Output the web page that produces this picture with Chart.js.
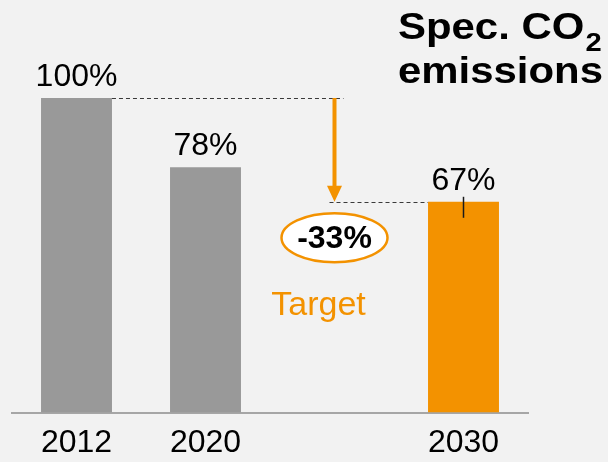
<!DOCTYPE html>
<html>
<head>
<meta charset="utf-8">
<script src="https://cdn.jsdelivr.net/npm/chart.js@4.4.1/dist/chart.umd.min.js"></script>
<style>
  html, body { margin: 0; padding: 0; background: #f2f2f2; }
  #chart { display: block; }
</style>
</head>
<body>
<canvas id="chart" width="608" height="462"></canvas>
<script>
// values, index of 2012 = 100%
const categories = ["2012", "2020", "", "2030"];
const shareValues = [100, 78, null, 67];
const valueLabels = ["100%", "78%", "", "67%"];
const barColors = ["#999999", "#999999", "#999999", "#f39200"];
const reductionLabel = "-33%";
const targetLabel = "Target";
const titleLines = ["Spec. CO", "emissions"];

const ORANGE = "#f39200";
const FONT = "'Liberation Sans', Arial, sans-serif";

// arrows, dashed guides, value labels and title
const annotations = {
  id: "annotations",
  afterDatasetsDraw(chart) {
    const { ctx, scales } = chart;
    const x = scales.x;
    const y = scales.y;
    const bars = chart.getDatasetMeta(0).data;

    ctx.save();
    // value labels above bars
    ctx.fillStyle = "#000";
    ctx.font = `32px ${FONT}`;
    ctx.textAlign = "center";
    ctx.textBaseline = "alphabetic";
    bars.forEach((b, i) => {
      if (shareValues[i] == null) return;
      ctx.fillText(valueLabels[i], b.x, b.y - 12);
    });

    const ax = x.getPixelForValue(2);
    const yTop = y.getPixelForValue(shareValues[0]);
    const yEnd = y.getPixelForValue(shareValues[3]);

    // dashed guides
    ctx.strokeStyle = "#3a3a3a";
    ctx.lineWidth = 1;
    ctx.setLineDash([4, 3]);
    ctx.beginPath();
    ctx.moveTo(bars[0].x + bars[0].width / 2, Math.round(yTop) + 0.5);
    ctx.lineTo(ax + 9, Math.round(yTop) + 0.5);
    ctx.moveTo(ax - 5, Math.round(yEnd) + 0.5);
    ctx.lineTo(bars[3].x - bars[3].width / 2, Math.round(yEnd) + 0.5);
    ctx.stroke();
    ctx.setLineDash([]);

    // small tick on the 2030 bar
    ctx.strokeStyle = "#1a1a1a";
    ctx.lineWidth = 1.5;
    ctx.beginPath();
    ctx.moveTo(bars[3].x, bars[3].y - 5);
    ctx.lineTo(bars[3].x, bars[3].y + 16);
    ctx.stroke();

    // orange arrow
    ctx.strokeStyle = ORANGE;
    ctx.fillStyle = ORANGE;
    ctx.lineWidth = 4;
    ctx.beginPath();
    ctx.moveTo(ax, yTop);
    ctx.lineTo(ax, yEnd - 15);
    ctx.stroke();
    ctx.beginPath();
    ctx.moveTo(ax - 7.5, yEnd - 16);
    ctx.lineTo(ax + 7.5, yEnd - 16);
    ctx.lineTo(ax, yEnd);
    ctx.closePath();
    ctx.fill();

    // ellipse with reduction
    const ey = yEnd + 36;
    ctx.beginPath();
    ctx.ellipse(ax, ey, 53, 24.5, 0, 0, Math.PI * 2);
    ctx.fillStyle = "#fff";
    ctx.fill();
    ctx.lineWidth = 2.5;
    ctx.strokeStyle = ORANGE;
    ctx.stroke();
    ctx.fillStyle = "#000";
    ctx.font = `bold 32px ${FONT}`;
    ctx.fillText(reductionLabel, ax, ey + 10);

    // Target
    ctx.fillStyle = ORANGE;
    ctx.font = `34px ${FONT}`;
    ctx.fillText(targetLabel, ax - 16, yEnd + 113);

    // title, slightly widened like the original
    ctx.fillStyle = "#000";
    ctx.textAlign = "left";
    ctx.font = `bold 36px ${FONT}`;
    const sx = 205 / ctx.measureText(titleLines[1]).width;
    ctx.save();
    ctx.translate(398, 39);
    ctx.scale(sx, 1);
    ctx.fillText(titleLines[0], 0, 0);
    const w1 = ctx.measureText(titleLines[0]).width;
    ctx.font = `bold 25px ${FONT}`;
    ctx.fillText("2", w1 + 1, 12);
    ctx.restore();
    ctx.save();
    ctx.translate(398, 83);
    ctx.scale(sx, 1);
    ctx.font = `bold 36px ${FONT}`;
    ctx.fillText(titleLines[1], 0, 0);
    ctx.restore();

    ctx.restore();
  },
};

new Chart(document.getElementById("chart"), {
  type: "bar",
  data: {
    labels: categories,
    datasets: [
      {
        data: shareValues,
        backgroundColor: barColors,
        borderWidth: 0,
        barPercentage: 0.55,
        categoryPercentage: 1,
      },
    ],
  },
  options: {
    responsive: false,
    animation: false,
    devicePixelRatio: 1,
    layout: { padding: { left: 12, right: 80, top: 98, bottom: 0 } },
    plugins: { legend: { display: false }, tooltip: { enabled: false } },
    scales: {
      x: {
        grid: { display: false, drawTicks: false },
        border: { display: true, color: "#a6a6a6", width: 2 },
        ticks: {
          color: "#000",
          padding: 11,
          font: { family: FONT, size: 32 },
          maxRotation: 0,
          autoSkip: false,
        },
        afterFit: (s) => {
          s.height = 49.5;
        },
      },
      y: { display: false, min: 0, max: 100 },
    },
  },
  plugins: [annotations],
});
</script>
</body>
</html>
